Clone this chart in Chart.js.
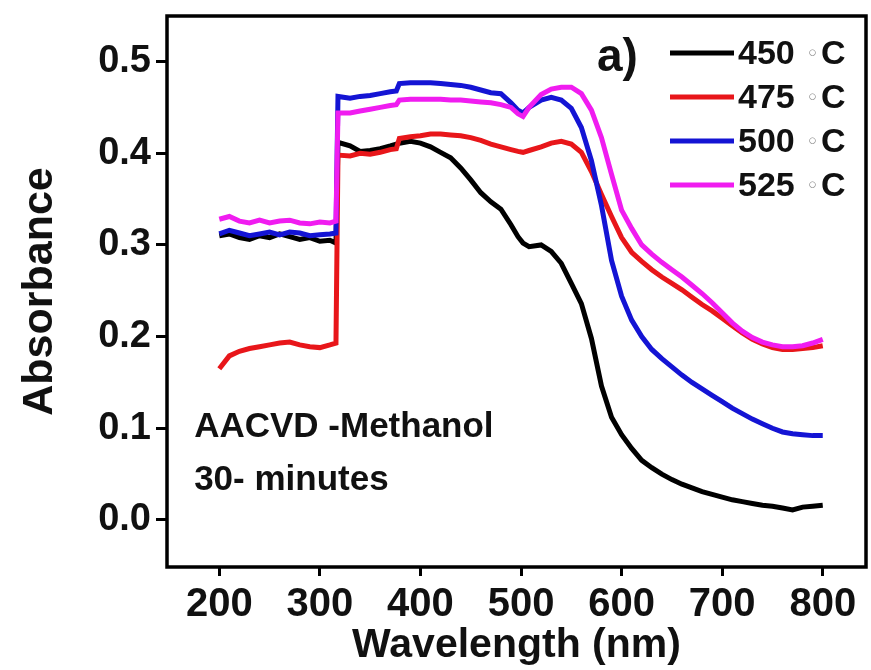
<!DOCTYPE html>
<html>
<head>
<meta charset="utf-8">
<title>Absorbance</title>
<script src="https://cdn.jsdelivr.net/npm/chart.js@4.4.1/dist/chart.umd.min.js"></script>
<style>
    html, body { margin: 0; padding: 0; background: #fff; }
    #wrap { width: 871px; height: 670px; }
</style>
</head>
<body>
<div id="wrap"><canvas id="absChart" width="871" height="670"></canvas></div>
<script>
// wavelength grid (nm), shared by all four spectra
const wavelengths = [
    200, 210, 220, 230, 240, 250, 260, 270, 280, 290, 300, 310, 316, 318,
    330, 340, 350, 360, 370, 376, 379,
    390, 400, 410, 420, 430, 440, 450, 460, 470, 480, 490, 497, 502, 508,
    520, 530, 540, 550, 560, 570, 580, 590, 600, 610, 620, 630, 640, 650, 660, 670, 680, 690,
    700, 710, 720, 730, 740, 750, 760, 770, 780, 790, 800
];

const abs450 = [
    0.310, 0.312, 0.308, 0.306, 0.310, 0.308, 0.312, 0.309, 0.306, 0.308, 0.304, 0.305, 0.302, 0.412,
    0.408, 0.402, 0.403, 0.405, 0.408, 0.410, 0.411,
    0.413, 0.411, 0.407, 0.401, 0.395, 0.384, 0.371, 0.357, 0.347, 0.339, 0.322, 0.309, 0.302, 0.298,
    0.300, 0.293, 0.280, 0.258, 0.236, 0.198, 0.146, 0.112, 0.093, 0.078, 0.065, 0.057, 0.050, 0.044, 0.039, 0.035, 0.031, 0.028,
    0.025, 0.022, 0.020, 0.018, 0.016, 0.015, 0.013, 0.011, 0.014, 0.015, 0.016
];

const abs475 = [
    0.165, 0.179, 0.184, 0.187, 0.189, 0.191, 0.193, 0.194, 0.191, 0.189, 0.188, 0.191, 0.193, 0.398,
    0.397, 0.400, 0.399, 0.401, 0.404, 0.405, 0.416,
    0.418, 0.419, 0.421, 0.421, 0.420, 0.419, 0.417, 0.414, 0.410, 0.407, 0.404, 0.402, 0.401, 0.403,
    0.407, 0.411, 0.413, 0.410, 0.401, 0.380, 0.355, 0.331, 0.308, 0.292, 0.282, 0.273, 0.265, 0.258, 0.251, 0.243, 0.235, 0.228,
    0.220, 0.212, 0.204, 0.197, 0.192, 0.188, 0.186, 0.186, 0.187, 0.188, 0.190
];

const abs500 = [
    0.312, 0.316, 0.313, 0.310, 0.312, 0.314, 0.311, 0.314, 0.313, 0.310, 0.311, 0.312, 0.313, 0.462,
    0.460, 0.462, 0.463, 0.465, 0.467, 0.468, 0.476,
    0.477, 0.477, 0.477, 0.476, 0.475, 0.474, 0.472, 0.469, 0.466, 0.465, 0.455, 0.447, 0.444, 0.450,
    0.458, 0.461, 0.458, 0.449, 0.428, 0.392, 0.343, 0.283, 0.244, 0.218, 0.200, 0.186, 0.176, 0.167, 0.158, 0.150, 0.143, 0.136,
    0.129, 0.122, 0.116, 0.110, 0.105, 0.100, 0.096, 0.094, 0.093, 0.092, 0.092
];

const abs525 = [
    0.328, 0.331, 0.326, 0.324, 0.327, 0.324, 0.326, 0.327, 0.324, 0.323, 0.325, 0.324, 0.326, 0.444,
    0.444, 0.446, 0.448, 0.450, 0.452, 0.453, 0.458,
    0.459, 0.459, 0.459, 0.459, 0.458, 0.458, 0.457, 0.456, 0.455, 0.453, 0.450, 0.443, 0.440, 0.450,
    0.464, 0.470, 0.472, 0.472, 0.465, 0.447, 0.417, 0.377, 0.338, 0.318, 0.300, 0.290, 0.281, 0.273, 0.265, 0.256, 0.247, 0.237,
    0.226, 0.215, 0.206, 0.199, 0.194, 0.191, 0.189, 0.189, 0.190, 0.193, 0.197
];

const tempLabels = ['450', '475', '500', '525'];
const seriesColors = ['#000000', '#e8161a', '#1414d4', '#f01cf0'];
const xTicks = [200, 300, 400, 500, 600, 700, 800];
const yTicks = [0.0, 0.1, 0.2, 0.3, 0.4, 0.5];

const panelTag = 'a)';
const noteLines = ['AACVD -Methanol', '30- minutes'];

const allSeries = [abs450, abs475, abs500, abs525];
const FONT = "'Liberation Sans', Arial, sans-serif";
Chart.defaults.font.family = FONT;
Chart.defaults.font.weight = 'bold';
Chart.defaults.color = '#111';

const toPoints = (vals) => wavelengths.map((w, i) => ({ x: w, y: vals[i] }));

// magenta drawn on top, then blue, red, black
const drawOrder = [3, 2, 1, 0];

const datasets = allSeries.map((vals, i) => ({
    label: `${tempLabels[i]} °C`,
    data: toPoints(vals),
    borderColor: seriesColors[i],
    borderWidth: 5,
    pointRadius: 0,
    tension: 0,
    fill: false,
    order: drawOrder[i]
}));

// box round the plot area
const framePlugin = {
    id: 'frame',
    afterDatasetsDraw(chart) {
        const { ctx, chartArea: a } = chart;
        ctx.save();
        ctx.strokeStyle = '#000';
        ctx.lineWidth = 3.5;
        ctx.strokeRect(a.left, a.top, a.right - a.left, a.bottom - a.top);
        ctx.restore();
    }
};

// legend in the top right corner, panel tag and the run notes
const notesPlugin = {
    id: 'notes',
    afterDraw(chart) {
        const { ctx } = chart;
        const xs = chart.scales.x, ys = chart.scales.y;
        ctx.save();
        ctx.fillStyle = '#111';
        ctx.textAlign = 'left';
        ctx.textBaseline = 'alphabetic';

        ctx.font = `bold 46px ${FONT}`;
        ctx.fillText(panelTag, 597, 71);

        chart.data.datasets.forEach((ds, i) => {
            const base = 64 + i * 44;
            const midY = base - 11;
            ctx.strokeStyle = ds.borderColor;
            ctx.lineWidth = 5;
            ctx.beginPath();
            ctx.moveTo(670, midY);
            ctx.lineTo(734, midY);
            ctx.stroke();

            ctx.fillStyle = '#111';
            ctx.font = `bold 34px ${FONT}`;
            ctx.fillText(tempLabels[i], 738, base);
            ctx.fillStyle = '#8c8c8c';
            ctx.font = `22px 'DejaVu Sans'`;
            ctx.fillText('◦', 806, base - 3);
            ctx.fillStyle = '#111';
            ctx.font = `bold 34px ${FONT}`;
            ctx.fillText('C', 821, base);
        });

        ctx.font = `bold 35px ${FONT}`;
        ctx.fillStyle = '#111';
        ctx.fillText(noteLines[0], xs.getPixelForValue(175), ys.getPixelForValue(0.09));
        ctx.fillText(noteLines[1], xs.getPixelForValue(175), ys.getPixelForValue(0.033));
        ctx.restore();
    }
};

// keep the edge tick labels from pushing the plot area inwards
const noEdgePadding = (scale) => {
    scale.paddingTop = 0;
    scale.paddingBottom = 0;
    scale.paddingLeft = 0;
    scale.paddingRight = 0;
};

new Chart(document.getElementById('absChart'), {
    type: 'line',
    data: { datasets },
    options: {
        responsive: false,
        animation: false,
        events: [],
        layout: { padding: { top: 16, right: 5, left: 0, bottom: 0 } },
        plugins: { legend: { display: false }, tooltip: { enabled: false } },
        scales: {
            x: {
                type: 'linear',
                min: 148,
                max: 843,
                afterBuildTicks: (scale) => { scale.ticks = xTicks.map(v => ({ value: v })); },
                afterFit: (scale) => { scale.height = 103; noEdgePadding(scale); },
                border: { display: false },
                grid: { drawOnChartArea: false, drawTicks: true, tickLength: 9, tickWidth: 3, tickColor: '#000', lineWidth: 3, color: '#000' },
                ticks: { padding: 5, maxRotation: 0, color: '#111', font: { size: 40, weight: 'bold' }, callback: (v) => String(v) },
                title: { display: true, text: 'Wavelength (nm)', color: '#111', font: { size: 41, weight: 'bold' }, padding: { top: 0, bottom: 0 } }
            },
            y: {
                type: 'linear',
                min: -0.0513,
                max: 0.5497,
                afterBuildTicks: (scale) => { scale.ticks = yTicks.map(v => ({ value: v })); },
                afterFit: (scale) => { scale.width = 167; noEdgePadding(scale); },
                border: { display: false },
                grid: { drawOnChartArea: false, drawTicks: true, tickLength: 11, tickWidth: 3, tickColor: '#000', lineWidth: 3, color: '#000' },
                ticks: { padding: 5, color: '#111', font: { size: 38, weight: 'bold' }, callback: (v) => Number(v).toFixed(1) },
                title: { display: true, text: 'Absorbance', color: '#111', font: { size: 43, weight: 'bold' }, padding: { top: 14, bottom: 0 } }
            }
        }
    },
    plugins: [framePlugin, notesPlugin]
});
</script>
</body>
</html>
